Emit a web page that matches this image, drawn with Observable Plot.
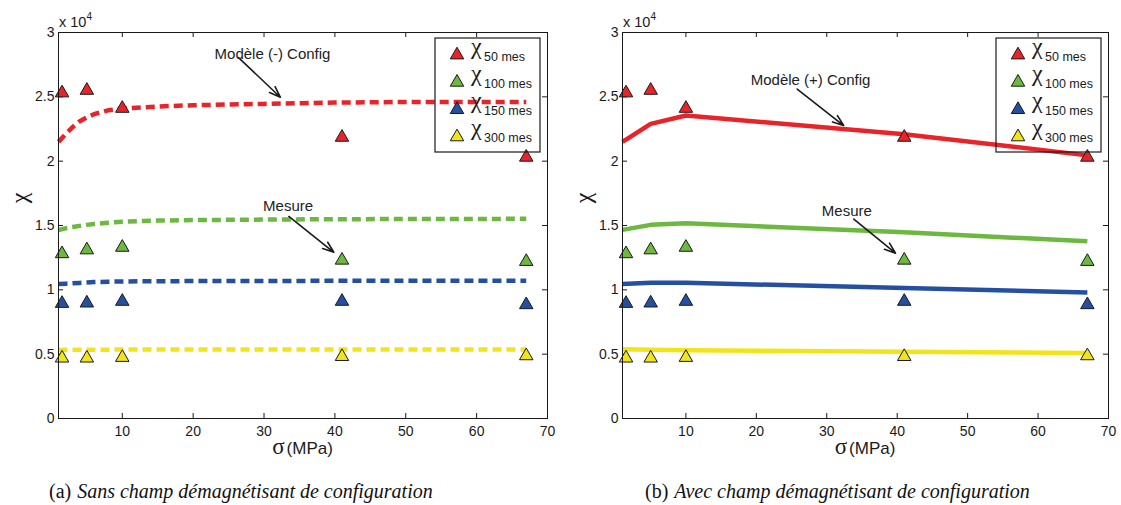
<!DOCTYPE html>
<html>
<head>
<meta charset="utf-8">
<script src="https://cdn.jsdelivr.net/npm/d3@7"></script>
<script src="https://cdn.jsdelivr.net/npm/@observablehq/plot@0.6"></script>
<style>
  body { margin: 0; background: #fff; }
  #wrap { position: relative; width: 1121px; height: 505px; overflow: hidden; background: #fff;
          font-family: "Liberation Sans", Arial, sans-serif; }
  .panel { position: absolute; top: 0; }
  .cap { position: absolute; top: 478px; font-family: "Liberation Serif", "Times New Roman", serif;
         font-size: 20px; white-space: nowrap; color: #111; line-height: 26px; }
  .cap i { margin-left: 6px; }
</style>
</head>
<body>
<div id="wrap"></div>
<script>
// ---------- data (values in units of 10^4) ----------
const seriesNames = ["50 mes", "100 mes", "150 mes", "300 mes"];
const seriesColors = ["#e8242a", "#6cb840", "#2550a2", "#f2e41a"];

// measurements (identical in both panels)
const sigmaMes = [1.5, 5, 10, 41, 67];
const chi50Mes  = [2.53, 2.55, 2.41, 2.185, 2.03];
const chi100Mes = [1.28, 1.31, 1.33, 1.23, 1.22];
const chi150Mes = [0.894, 0.897, 0.91, 0.91, 0.884];
const chi300Mes = [0.469, 0.469, 0.474, 0.481, 0.487];

// model (-) config, panel (a)
const sigmaModelA = [1, 2, 3, 4, 5, 6, 8, 10, 15, 20, 30, 40, 50, 60, 67];
const chi50ModelA  = [2.15, 2.21, 2.265, 2.31, 2.34, 2.365, 2.395, 2.41, 2.425, 2.435, 2.445, 2.455, 2.46, 2.46, 2.46];
const chi100ModelA = [1.465, 1.478, 1.488, 1.497, 1.505, 1.512, 1.522, 1.53, 1.538, 1.542, 1.546, 1.549, 1.55, 1.551, 1.552];
const chi150ModelA = [1.045, 1.048, 1.051, 1.054, 1.057, 1.06, 1.063, 1.065, 1.067, 1.068, 1.069, 1.07, 1.07, 1.07, 1.07];
const chi300ModelA = [0.533, 0.534, 0.534, 0.535, 0.535, 0.535, 0.535, 0.536, 0.536, 0.536, 0.536, 0.536, 0.536, 0.536, 0.536];

// model (+) config, panel (b)
const sigmaModelB = [1, 5, 10, 41, 67];
const chi50ModelB  = [2.15, 2.29, 2.355, 2.21, 2.045];
const chi100ModelB = [1.466, 1.505, 1.517, 1.447, 1.377];
const chi150ModelB = [1.045, 1.055, 1.055, 1.014, 0.98];
const chi300ModelB = [0.539, 0.535, 0.531, 0.518, 0.51];

const xTicks = [10, 20, 30, 40, 50, 60, 70];
const yTicks = [0, 0.5, 1, 1.5, 2, 2.5, 3];

const annotsA = [
  {text: "Modèle (-) Config", tx: 31.2, ty: 2.834, x1: 26.4, y1: 2.805, x2: 32.3, y2: 2.497},
  {text: "Mesure", tx: 33.4, ty: 1.648, x1: 33.5, y1: 1.570, x2: 39.85, y2: 1.292}
];
const annotsB = [
  {text: "Modèle (+) Config", tx: 27.7, ty: 2.632, x1: 25.8, y1: 2.560, x2: 32.4, y2: 2.277},
  {text: "Mesure", tx: 32.85, ty: 1.609, x1: 33.84, y1: 1.550, x2: 39.76, y2: 1.285}
];
const captions = [
  {label: "(a)", text: "Sans champ démagnétisant de configuration"},
  {label: "(b)", text: "Avec champ démagnétisant de configuration"}
];

// ---------- helpers ----------
const mesSeries = [chi50Mes, chi100Mes, chi150Mes, chi300Mes];
function rows(sigmas, series) {
  const out = [];
  series.forEach((vals, s) => vals.forEach((v, i) => out.push({sigma: sigmas[i], chi: v, series: s})));
  return out;
}

const W = 560, H = 460, MT = 32, MB = 42, MR = 13;
const INK = "#1a1a1a";

function makePanel({ml, sigmaModel, model, dashed, annots}) {
  const innerW = W - ml - MR, innerH = H - MT - MB;
  const plot = Plot.plot({
    width: W, height: H,
    marginLeft: ml, marginRight: MR, marginTop: MT, marginBottom: MB,
    x: {domain: [1, 70]},
    y: {domain: [0, 3]},
    color: {type: "ordinal", domain: [0, 1, 2, 3], range: seriesColors},
    style: {fontFamily: "'Liberation Sans', Arial, sans-serif", fontSize: "14px", color: INK, background: "transparent"},
    marks: [
      Plot.axisX(xTicks, {tickSize: 0, tickPadding: 8, label: null, fontSize: 14, tickFormat: d => String(d)}),
      Plot.axisY(yTicks, {tickSize: 0, tickPadding: 4, label: null, fontSize: 14, tickFormat: d => String(d)}),
      Plot.tickX(xTicks.filter(d => d < 70), {x: d => d, insetTop: innerH - 5, stroke: INK}),
      Plot.tickX(xTicks.filter(d => d < 70), {x: d => d, insetBottom: innerH - 5, stroke: INK}),
      Plot.tickY(yTicks.filter(d => d > 0 && d < 3), {y: d => d, insetRight: innerW - 5, stroke: INK}),
      Plot.tickY(yTicks.filter(d => d > 0 && d < 3), {y: d => d, insetLeft: innerW - 5, stroke: INK}),
      Plot.line(rows(sigmaModel, model), {
        x: "sigma", y: "chi", z: "series", stroke: "series",
        strokeWidth: 4.5, strokeDasharray: dashed ? "9,5" : null,
        strokeLinecap: "butt", strokeLinejoin: "round"
      }),
      Plot.dot(rows(sigmaMes, mesSeries), {
        x: "sigma", y: "chi", fill: "series", stroke: INK, strokeWidth: 1,
        symbol: "triangle", r: 5
      }),
      Plot.arrow(annots, {x1: "x1", y1: "y1", x2: "x2", y2: "y2", stroke: INK, strokeWidth: 1.6, headLength: 11, headAngle: 40}),
      Plot.text(annots, {x: "tx", y: "ty", text: "text", fontSize: 15, fill: "#222", textAnchor: "middle", lineAnchor: "middle"}),
      Plot.frame({stroke: INK, strokeWidth: 1})
    ]
  });

  const svg = d3.select(plot);
  const frameR = W - MR;

  // "x 10^4" multiplier
  const mult = svg.append("text").attr("x", ml + 1).attr("y", 27).attr("text-anchor", "start")
    .attr("font-size", 14.5).attr("fill", INK).text("x 10");
  mult.append("tspan").attr("dy", -7).attr("font-size", 10).text("4");

  // y label χ (rotated)
  svg.append("text").attr("transform", `translate(${ml - 39},198) rotate(-90)`)
    .attr("text-anchor", "middle").attr("dominant-baseline", "central")
    .attr("font-family", "'Liberation Serif', serif").attr("font-size", 24).attr("fill", INK).text("χ");

  // x label σ (MPa)
  const xl = svg.append("text").attr("x", (ml + frameR) / 2).attr("y", 454)
    .attr("text-anchor", "middle").attr("fill", INK);
  xl.append("tspan").attr("font-family", "'Liberation Serif', serif").attr("font-size", 23).text("σ");
  xl.append("tspan").attr("font-size", 17).attr("dx", 2).text("(MPa)");

  // legend (transparent box)
  const bx = frameR - 112, by = MT + 6, bw = 105, bh = 114;
  const lg = svg.append("g").attr("text-anchor", "start");
  lg.append("rect").attr("x", bx).attr("y", by).attr("width", bw).attr("height", bh)
    .attr("fill", "none").attr("stroke", INK).attr("stroke-width", 1.2);
  const tri = d3.symbol().type(d3.symbolTriangle).size(Math.PI * 25)();
  seriesNames.forEach((name, i) => {
    const cy = by + 17 + i * 27.3;
    lg.append("path").attr("d", tri).attr("transform", `translate(${bx + 22},${cy})`)
      .attr("fill", seriesColors[i]).attr("stroke", INK).attr("stroke-width", 1);
    lg.append("text").attr("x", bx + 36).attr("y", cy - 1.5).attr("text-anchor", "start")
      .attr("font-family", "'Liberation Serif', serif").attr("font-size", 24).attr("fill", INK).text("χ");
    lg.append("text").attr("x", bx + 49).attr("y", cy + 5.5).attr("text-anchor", "start")
      .attr("font-size", 12.5).attr("fill", INK).text(name);
  });
  return plot;
}

const wrap = document.getElementById("wrap");
const left = makePanel({ml: 58, sigmaModel: sigmaModelA,
  model: [chi50ModelA, chi100ModelA, chi150ModelA, chi300ModelA], dashed: true, annots: annotsA});
left.classList.add("panel"); left.style.left = "0px";
wrap.appendChild(left);

const right = makePanel({ml: 61, sigmaModel: sigmaModelB,
  model: [chi50ModelB, chi100ModelB, chi150ModelB, chi300ModelB], dashed: false, annots: annotsB});
right.classList.add("panel"); right.style.left = "561px";
wrap.appendChild(right);

const capLefts = [49, 645];
captions.forEach((c, i) => {
  const d = document.createElement("div");
  d.className = "cap";
  d.style.left = capLefts[i] + "px";
  d.innerHTML = `<span>${c.label}</span><i>${c.text}</i>`;
  wrap.appendChild(d);
});
</script>
</body>
</html>
